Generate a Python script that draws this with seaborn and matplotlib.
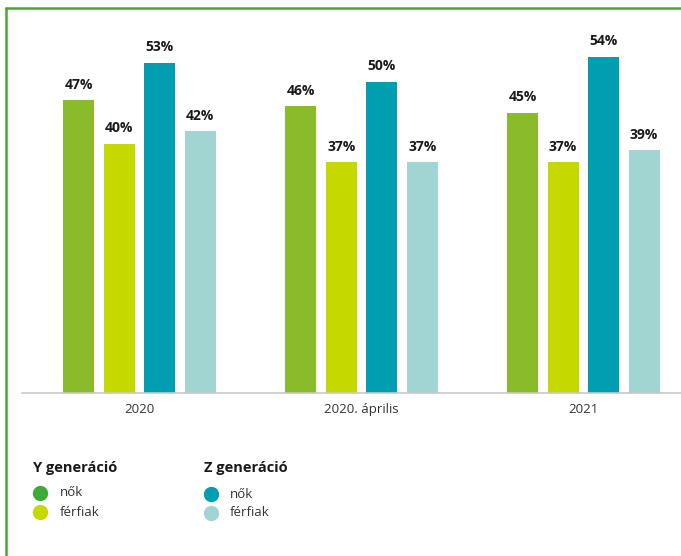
import numpy as np
import pandas as pd
import seaborn as sns
import matplotlib.pyplot as plt
from matplotlib.lines import Line2D

# Data
periods = ["2020", "2020. április", "2021"]
groups = ["Y nők", "Y férfiak", "Z nők", "Z férfiak"]
y_women = [47, 46, 45]
y_men = [40, 37, 37]
z_women = [53, 50, 54]
z_men = [42, 37, 39]

colors = ["#8abb2a", "#c5d800", "#009eb0", "#a0d5d2"]
legend_colors = ["#3dab35", "#c5d800", "#009eb0", "#a0d5d2"]

df = pd.DataFrame({
    "period": periods * 4,
    "group": np.repeat(groups, 3),
    "value": y_women + y_men + z_women + z_men,
})

sns.set_style("white")
plt.rcParams["font.family"] = ["Open Sans", "DejaVu Sans"]

W, H = 681, 556
fig = plt.figure(figsize=(W / 100, H / 100), dpi=100)
ax = fig.add_axes([22 / W, 1 - 393 / H, 1 - 22 / W, (393 - 8) / H])

sns.barplot(data=df, x="period", y="value", hue="group", order=periods,
            hue_order=groups, palette=colors, saturation=1, width=0.73,
            gap=0.23, linewidth=0, legend=False, ax=ax)

for cont in ax.containers:
    ax.bar_label(cont, labels=[f"{v:.0f}%" for v in cont.datavalues],
                 padding=6, fontsize=10, fontweight="bold", color="#1a1a1a")

ax.set_xlim(-0.53, 2.44)
ax.set_ylim(0, 61.8)
ax.set_xlabel("")
ax.set_ylabel("")
ax.set_yticks([])
for s in ["top", "right", "left"]:
    ax.spines[s].set_visible(False)
ax.spines["bottom"].set_color("#c8c8c8")
ax.spines["bottom"].set_linewidth(1.2)
ax.tick_params(axis="x", length=0, pad=7, labelsize=9.5, labelcolor="#333333")

# green frame (left and top)
frame = "#4aa832"
fig.add_artist(Line2D([6 / W, 6 / W], [0, 1 - 8 / H], color=frame, lw=1.8,
                      transform=fig.transFigure))
fig.add_artist(Line2D([6 / W, 1], [1 - 8 / H, 1 - 8 / H], color=frame, lw=1.8,
                      transform=fig.transFigure))

# legend
def fx(px):
    return px / W


def fy(py):
    return 1 - py / H


fig.text(fx(33), fy(468), "Y generáció", fontsize=10.5, fontweight="bold",
         va="center", color="#1a1a1a")
fig.text(fx(204), fy(468), "Z generáció", fontsize=10.5, fontweight="bold",
         va="center", color="#1a1a1a")
legend_items = [(40, 493, 60, "nők"), (40, 512, 60, "férfiak"),
                (211, 494, 230, "nők"), (211, 513, 230, "férfiak")]
for (mx, my, tx, txt), c in zip(legend_items, legend_colors):
    fig.add_artist(Line2D([fx(mx)], [fy(my)], marker="o", markersize=10,
                          color=c, linestyle="none", transform=fig.transFigure))
    fig.text(fx(tx), fy(my), txt, fontsize=9.5, va="center", color="#333333")

fig.savefig("out.png", dpi=100)
